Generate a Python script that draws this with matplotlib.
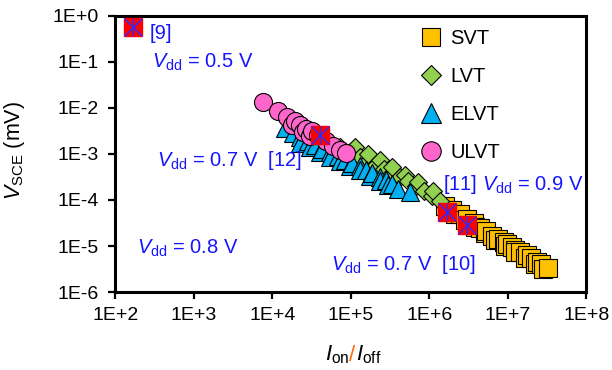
import matplotlib
matplotlib.use("Agg")
import matplotlib.pyplot as plt
from matplotlib.lines import Line2D
from matplotlib.offsetbox import TextArea, HPacker, AnnotationBbox
from matplotlib.ticker import FixedLocator, FuncFormatter
import numpy as np

plt.rcParams['font.family'] = ['Liberation Sans', 'DejaVu Sans']
plt.rcParams['mathtext.fontset'] = 'custom'
plt.rcParams['mathtext.rm'] = 'Liberation Sans'
plt.rcParams['mathtext.it'] = 'Liberation Sans:italic'
plt.rcParams['mathtext.bf'] = 'Liberation Sans:bold'

# ---- data (Ion/Ioff, V_SCE in mV) ----
svt_x = [1.57e6, 1.94e6, 2.45e6, 3.0e6, 3.7e6, 4.4e6, 5.2e6, 6.3e6, 7.5e6, 8.9e6,
         9.7e6, 1.12e7, 1.23e7, 1.42e7, 1.75e7, 1.96e7, 2.34e7, 2.63e7, 3.2e7,
         2.11e6, 2.83e6, 3.8e6, 5.1e6, 6.8e6, 9.2e6, 1.23e7, 1.65e7, 2.21e7, 2.79e7]
svt_y = [7.4e-5, 6.1e-5, 5.0e-5, 3.9e-5, 3.2e-5, 2.46e-5, 2.12e-5, 1.65e-5, 1.42e-5, 1.22e-5,
         1.10e-5, 9.5e-6, 8.2e-6, 7.4e-6, 6.4e-6, 5.5e-6, 4.5e-6, 4.1e-6, 3.3e-6,
         4.97e-5, 3.67e-5, 2.59e-5, 1.92e-5, 1.35e-5, 1.0e-5, 7.4e-6, 5.5e-6, 4.1e-6, 3.2e-6]

lvt_x = [7.2e4, 9.7e4, 1.30e5, 1.65e5, 2.08e5, 2.63e5, 3.33e5, 4.2e5, 5.3e5, 6.7e5,
         8.5e5, 1.08e6, 1.36e6,
         1.12e5, 1.65e5, 2.34e5, 3.33e5, 4.87e5, 7.1e5, 1.11e6]
lvt_y = [1.42e-3, 1.10e-3, 8.6e-4, 7.0e-4, 5.8e-4, 4.7e-4, 3.9e-4, 3.2e-4, 2.6e-4, 2.0e-4,
         1.57e-4, 1.22e-4, 9.5e-5,
         1.42e-3, 1.0e-3, 7.4e-4, 5.2e-4, 3.5e-4, 2.46e-4, 1.57e-4]

elvt_x = [1.44e4, 1.82e4, 2.24e4, 2.83e4, 3.48e4, 4.27e4, 5.4e4, 6.8e4, 8.4e4, 1.03e5,
          1.30e5, 1.55e5, 1.85e5, 2.34e5, 2.79e5, 3.33e5, 5.6e5,
          2.24e4, 3.0e4, 4.0e4, 5.4e4, 7.2e4, 9.7e4, 1.30e5, 1.75e5, 2.34e5, 2.96e5, 3.97e5]
elvt_y = [3.7e-3, 2.86e-3, 2.34e-3, 1.92e-3, 1.57e-3, 1.28e-3, 1.10e-3, 9.1e-4, 7.4e-4, 6.4e-4,
          5.5e-4, 4.5e-4, 3.9e-4, 3.2e-4, 2.7e-4, 2.2e-4, 1.5e-4,
          1.73e-3, 1.42e-3, 1.10e-3, 8.6e-4, 7.0e-4, 5.5e-4, 4.5e-4, 3.3e-4, 2.6e-4, 2.1e-4, 1.73e-4]

ulvt_x = [7.57e3, 1.17e4, 1.53e4, 1.77e4, 1.94e4, 2.24e4, 2.45e4, 2.67e4, 3.0e4, 3.18e4,
          3.8e4, 4.8e4, 5.9e4, 7.2e4, 8.6e4]
ulvt_y = [1.35e-2, 8.6e-3, 6.4e-3, 4.3e-3, 5.2e-3, 4.3e-3, 3.0e-3, 3.5e-3, 2.5e-3, 3.2e-3,
          2.6e-3, 1.9e-3, 1.5e-3, 1.22e-3, 1.05e-3]

ref_x = [1.66e2, 4.0e4, 1.66e6, 2.98e6]
ref_y = [0.59, 2.6e-3, 5.6e-5, 2.86e-5]

series_labels = ['SVT', 'LVT', 'ELVT', 'ULVT']
series_colors = ['#FFC000', '#92D050', '#00B0F0', '#FF66CC']
series_markers = ['s', 'D', '^', 'o']

xticks = [1e2, 1e3, 1e4, 1e5, 1e6, 1e7, 1e8]
yticks = [1e-6, 1e-5, 1e-4, 1e-3, 1e-2, 1e-1, 1e0]

TXT_BLUE = '#1515FF'

fig = plt.figure(figsize=(6.12, 3.70), dpi=100)
ax = fig.add_axes([0.1887, 0.2108, 0.7696, 0.7460])
ax.set_xscale('log')
ax.set_yscale('log')
ax.set_xlim(1e2, 1e8)
ax.set_ylim(1e-6, 1e0)

data = [(svt_x, svt_y), (lvt_x, lvt_y), (elvt_x, elvt_y), (ulvt_x, ulvt_y)]
sizes = [12.5, 9.2, 13, 13]
for (xs, ys), c, m, ms in zip(data, series_colors, series_markers, sizes):
    xs = np.asarray(xs)
    ys = np.asarray(ys)
    order = np.argsort(xs, kind='stable')
    ax.plot(xs[order], ys[order], linestyle='none', marker=m, markersize=ms,
            markerfacecolor=c, markeredgecolor='black', markeredgewidth=0.8, clip_on=False)

ax.plot(ref_x, ref_y, linestyle='none', marker='s', markersize=13.5,
        markerfacecolor='#FF0000', markeredgecolor='#FF0000', clip_on=False, zorder=5)
ax.plot(ref_x, ref_y, linestyle='none', marker='x', markersize=13,
        markeredgecolor='#2B2BFF', markeredgewidth=1.0, clip_on=False, zorder=6)
ax.plot(ref_x, ref_y, linestyle='none', marker='|', markersize=13,
        markeredgecolor='#2B2BFF', markeredgewidth=1.0, clip_on=False, zorder=6)

# axes styling
for sp in ax.spines.values():
    sp.set_linewidth(2.2)
ax.xaxis.set_major_locator(FixedLocator(xticks))
ax.yaxis.set_major_locator(FixedLocator(yticks))
ax.xaxis.set_minor_locator(FixedLocator([]))
ax.yaxis.set_minor_locator(FixedLocator([]))
fmt = FuncFormatter(lambda v, p: "1E{:+d}".format(int(round(np.log10(v)))))
ax.xaxis.set_major_formatter(fmt)
ax.yaxis.set_major_formatter(fmt)
ax.tick_params(axis='both', direction='out', length=5, width=1.6, labelsize=14)
ax.tick_params(axis='y', pad=7)
ax.tick_params(axis='x', pad=6)

# legend
handles = [Line2D([], [], linestyle='none', marker=m, markersize=ms + (1 if m != 'D' else 0.5),
                  markerfacecolor=c, markeredgecolor='black', markeredgewidth=0.8)
           for c, m, ms in zip(series_colors, series_markers, sizes)]
leg = ax.legend(handles, series_labels, loc='upper left',
                bbox_to_anchor=(421 / 612, 1 - 29 / 370), bbox_transform=fig.transFigure,
                frameon=False, fontsize=14.5, handlelength=0.95, handletextpad=0.5,
                labelspacing=0.95, borderpad=0, borderaxespad=0)

# annotations (axes fraction positions)
def ann(x, y, s):
    ax.text(x, y, s, transform=ax.transAxes, color=TXT_BLUE, fontsize=14.5,
            ha='left', va='center')

VDD = r'$\mathit{V}_{\mathrm{dd}}$'
ann(0.073, 0.938, '[9]')
ann(0.077, 0.833, VDD + ' = 0.5 V')
ann(0.0875, 0.478, VDD + ' = 0.7 V  [12]')
ann(0.695, 0.388, '[11] ' + VDD + ' = 0.9 V')
ann(0.045, 0.159, VDD + ' = 0.8 V')
ann(0.4569, 0.098, VDD + ' = 0.7 V  [10]')

# y label
fig.text(15 / 612, 1 - 150 / 370, r'$\mathit{V}_{\mathrm{SCE}}$ (mV)', rotation=90,
         ha='center', va='center', fontsize=15.5)

# x label with orange slash
tp = dict(fontsize=16)
parts = [TextArea(r'$\mathit{I}_{\mathrm{on}}$', textprops=dict(color='black', **tp)),
         TextArea('/', textprops=dict(color='#FF6A00', **tp)),
         TextArea(r'$\mathit{I}_{\mathrm{off}}$', textprops=dict(color='black', **tp))]
pack = HPacker(children=parts, align='baseline', pad=0, sep=0)
ab = AnnotationBbox(pack, (353 / 612, 1 - 355 / 370), xycoords='figure fraction',
                    frameon=False, box_alignment=(0.5, 0.5))
fig.add_artist(ab)

fig.savefig('out.png', dpi=100)
